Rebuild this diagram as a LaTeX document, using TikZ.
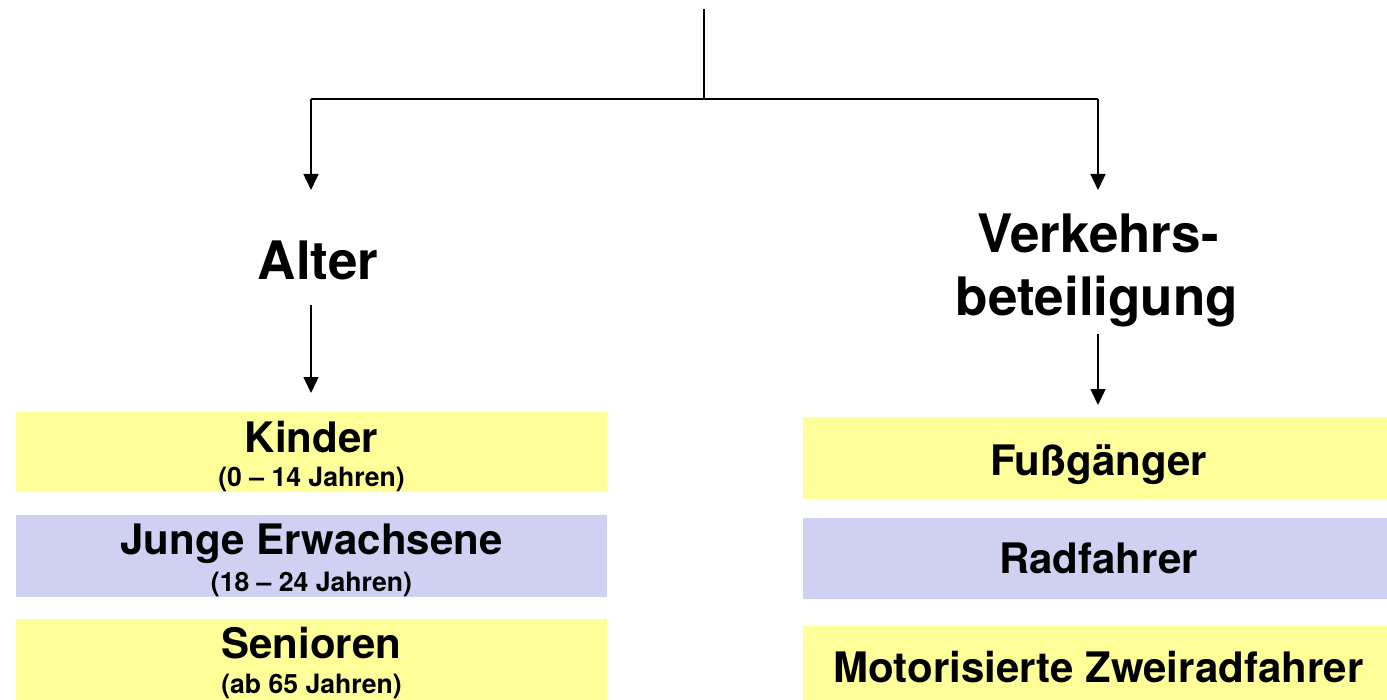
\documentclass[tikz,border=0pt]{standalone}
\usepackage{fontspec}
\setmainfont{TeX Gyre Heros}
\usetikzlibrary{arrows.meta}
\definecolor{bandyellow}{RGB}{255,255,153}
\definecolor{bandlilac}{RGB}{208,208,242}

\tikzset{
  head/.style={font=\bfseries\fontsize{26.5}{31.5}\selectfont, inner sep=0pt, anchor=base},
  item/.style={font=\bfseries\fontsize{21}{25}\selectfont, inner sep=0pt, anchor=base},
  note/.style={font=\bfseries\fontsize{13.3}{16}\selectfont, inner sep=0pt, anchor=base},
  band/.style={inner sep=0pt, minimum width=295.5pt},
  link/.style={-{Triangle[length=8pt,width=7.5pt]}, line width=0.75pt},
  trunk/.style={line width=1.25pt},
}

\begin{document}
\begin{tikzpicture}[x=0.5pt,y=-0.5pt]
  \useasboundingbox (0,0) rectangle (1387,700);
  \clip (0,0) rectangle (1387,700);

  % coloured bands, left column
  \node[band, fill=bandyellow, minimum height=40pt] (kinder) at (311.5,452) {};
  \node[band, fill=bandlilac, minimum height=41pt] (junge) at (311.5,556) {};
  \node[band, fill=bandyellow, minimum height=40.5pt] (senioren) at (311.5,659.5) {};
  % coloured bands, right column
  \node[band, fill=bandyellow, minimum height=41pt] (fuss) at (1098.5,458) {};
  \node[band, fill=bandlilac, minimum height=40.5pt] (rad) at (1098.5,558.5) {};
  \node[band, fill=bandyellow, minimum height=40.5pt] (moto) at (1098.5,666.5) {};

  % headings
  \node[head] (alter) at (318,280) {Alter};
  \node[head] (verk1) at (1098,253) {Verkehrs-};
  \node[head] (verk2) at (1097,315) {beteiligung};

  % labels
  \node[item] (kinderT) at (311.5,452) {Kinder};
  \node[note] (kinderN) at (311.5,486) {(0 – 14 Jahren)};
  \node[item] (jungeT) at (311.5,554) {Junge Erwachsene};
  \node[note] (jungeN) at (311.5,591) {(18 – 24 Jahren)};
  \node[item] (seniorenT) at (311.5,658) {Senioren};
  \node[note] (seniorenN) at (311.5,693) {(ab 65 Jahren)};
  \node[item] (fussT) at (1098.5,475) {Fußgänger};
  \node[item] (radT) at (1098.5,573) {Radfahrer};
  \node[item] (motoT) at (1098.5,682) {Motorisierte Zweiradfahrer};

  % tree lines
  \coordinate (root) at (704,9);
  \coordinate (fork) at (704,99);
  \coordinate (altertip) at (311,190);
  \coordinate (verktip) at (1098,190);
  \coordinate (altertail) at (311,305);
  \coordinate (kindertip) at (311,393);
  \coordinate (verktail) at (1098,334);
  \coordinate (fusstip) at (1098,405);

  \draw[trunk] (root) -- (fork);
  \draw[trunk] (fork -| altertip) -- (fork -| verktip);
  \draw[link] (fork -| altertip) -- (altertip);
  \draw[link] (fork -| verktip) -- (verktip);
  \draw[link] (altertail) -- (kindertip);
  \draw[link] (verktail) -- (fusstip);
\end{tikzpicture}
\end{document}
